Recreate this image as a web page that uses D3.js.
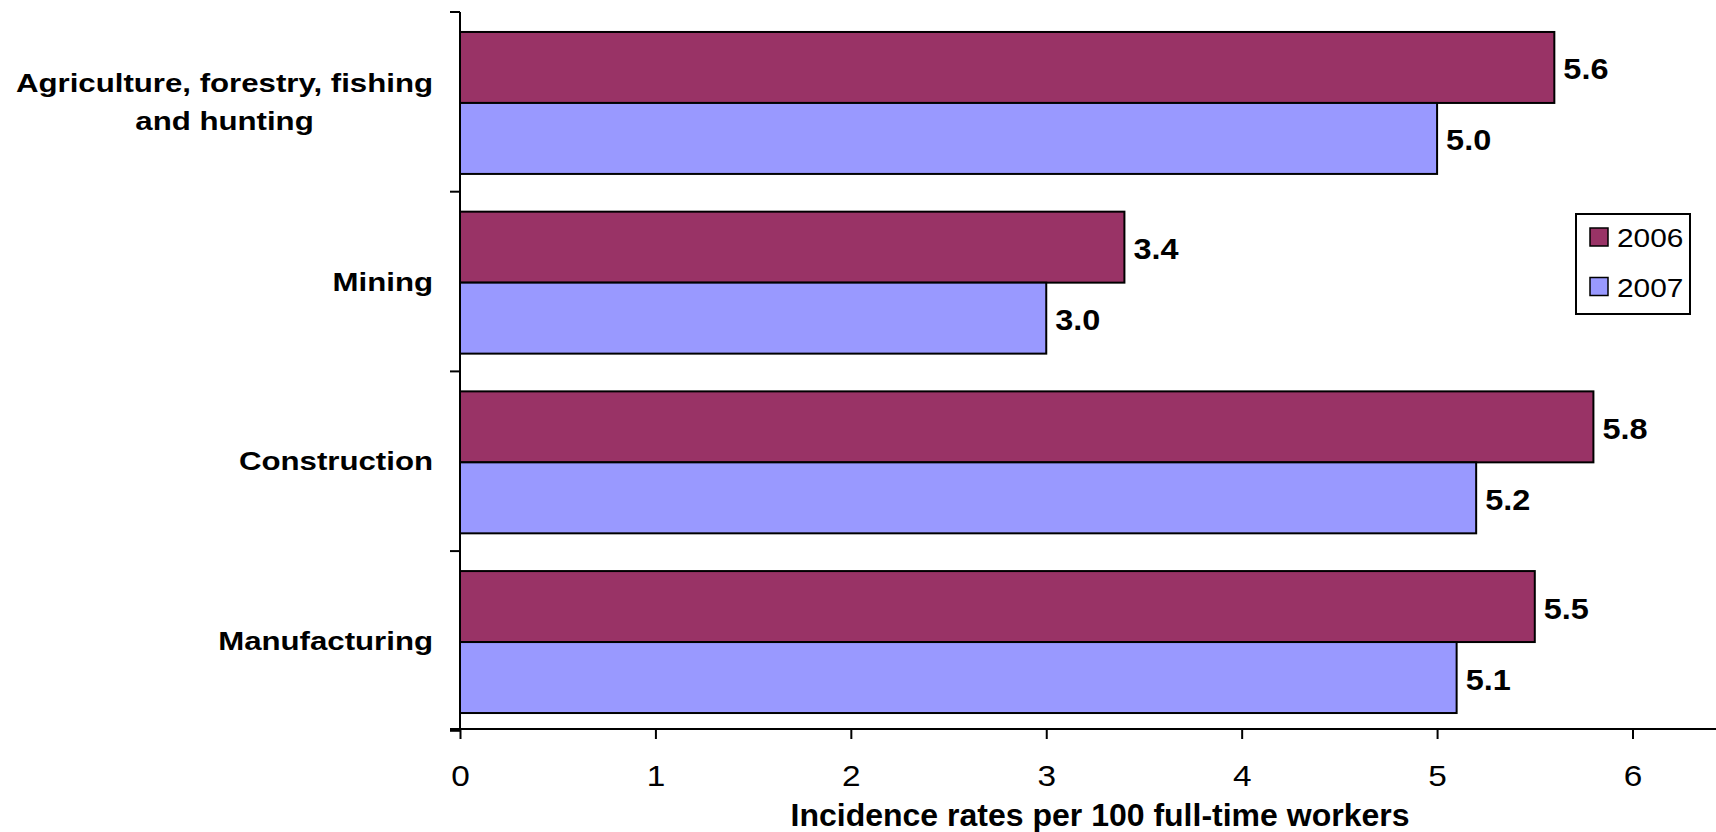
<!DOCTYPE html>
<html>
<head>
<meta charset="utf-8">
<script src="https://cdn.jsdelivr.net/npm/d3@7"></script>
<style>
  html, body { margin: 0; padding: 0; background: #fff; }
  svg { display: block; }
  text { font-family: "Liberation Sans", Arial, sans-serif; fill: #000; }
</style>
</head>
<body>
<svg id="chart" width="1716" height="832"></svg>
<script>
// ---- data ----
const categories = [
  ["Agriculture, forestry, fishing", "and hunting"],
  ["Mining"],
  ["Construction"],
  ["Manufacturing"]
];
const categoryKeys = ["Agriculture", "Mining", "Construction", "Manufacturing"];
const seriesNames = ["2006", "2007"];
const values2006 = [5.6, 3.4, 5.8, 5.5];
const values2007 = [5.0, 3.0, 5.2, 5.1];
const xTicks = [0, 1, 2, 3, 4, 5, 6];
const xTitle = "Incidence rates per 100 full-time workers";
const colors = ["#993366", "#9999FF"];

(function () {
// ---- layout ----
const svg = d3.select("#chart");
const W = 1716, H = 832;
const mLeft = 460, mRight = 1632.5, mTop = 12, mBottom = 729;

const x = d3.scaleLinear().domain([0, 6]).range([mLeft, mRight]);
const y = d3.scaleBand().domain(categoryKeys).range([mTop + 2, mBottom + 2])
  .paddingInner(0.21).paddingOuter(0.1);
const ys = d3.scaleBand().domain(seriesNames).range([0, y.bandwidth()]);
const color = d3.scaleOrdinal().domain(seriesNames).range(colors);

const rows = categoryKeys.map((k, i) => ({
  key: k, label: categories[i],
  vals: [{s: "2006", v: values2006[i]}, {s: "2007", v: values2007[i]}]
}));

// bars
const g = svg.append("g");
const groups = g.selectAll("g.cat").data(rows).join("g")
  .attr("class", "cat")
  .attr("transform", d => `translate(0,${y(d.key)})`);

groups.selectAll("rect").data(d => d.vals).join("rect")
  .attr("x", x(0))
  .attr("y", d => ys(d.s))
  .attr("width", d => x(d.v) - x(0))
  .attr("height", ys.bandwidth())
  .attr("fill", d => color(d.s))
  .attr("stroke", "#000")
  .attr("stroke-width", 2);

// value labels
const fmt = d3.format(".1f");
groups.selectAll("text.val").data(d => d.vals).join("text")
  .attr("class", "val")
  .attr("transform", d => `translate(${x(d.v) + 9},${ys(d.s) + ys.bandwidth() / 2 + 12}) scale(1.12,1)`)
  .attr("font-size", 29)
  .attr("font-weight", "bold")
  .text(d => fmt(d.v));

// x axis
const xAxis = d3.axisBottom(x).tickValues(xTicks).tickFormat(d3.format("d"))
  .tickSize(10).tickSizeOuter(0).tickPadding(0);
const xg = svg.append("g").attr("transform", `translate(0,${mBottom})`).call(xAxis);
xg.select(".domain").attr("d", `M${mLeft - 10},0H${W}`).attr("stroke", "#000").attr("stroke-width", 2);
xg.selectAll(".tick line").attr("stroke", "#000").attr("stroke-width", 2);
xg.selectAll(".tick text")
  .attr("y", null).attr("dy", null)
  .attr("transform", "translate(0,57) scale(1.15,1)")
  .attr("font-size", 29)
  .attr("font-family", "Liberation Sans, Arial, sans-serif")
  .attr("fill", "#000");

// y axis line + ticks at category boundaries
svg.append("line")
  .attr("x1", mLeft).attr("x2", mLeft).attr("y1", mTop).attr("y2", mBottom)
  .attr("stroke", "#000").attr("stroke-width", 2);
const bounds = d3.range(categoryKeys.length + 1).map(i => mTop + i * y.step());
svg.selectAll("line.ytick").data(bounds).join("line")
  .attr("class", "ytick")
  .attr("x1", mLeft - 10).attr("x2", mLeft)
  .attr("y1", d => d).attr("y2", d => d)
  .attr("stroke", "#000").attr("stroke-width", 2);

// category labels
const labelRight = 433;
const lsx = 1.2;
rows.forEach(r => {
  const cy = y(r.key) + y.bandwidth() / 2;
  if (r.label.length === 1) {
    svg.append("text")
      .attr("transform", `translate(${labelRight},${cy + 8}) scale(${lsx},1)`)
      .attr("text-anchor", "end")
      .attr("font-size", 26).attr("font-weight", "bold")
      .text(r.label[0]);
  } else {
    const t1 = svg.append("text")
      .attr("transform", `translate(${labelRight},${cy - 10.5}) scale(${lsx},1)`)
      .attr("text-anchor", "end")
      .attr("font-size", 26).attr("font-weight", "bold")
      .text(r.label[0]);
    const w = t1.node().getComputedTextLength() * lsx;
    svg.append("text")
      .attr("transform", `translate(${labelRight - w / 2},${cy + 27.5}) scale(${lsx},1)`)
      .attr("text-anchor", "middle")
      .attr("font-size", 26).attr("font-weight", "bold")
      .text(r.label[1]);
  }
});

// x title
svg.append("text")
  .attr("transform", `translate(1100,826)`)
  .attr("text-anchor", "middle")
  .attr("font-size", 32).attr("font-weight", "bold")
  .text(xTitle);

// legend
const lg = svg.append("g").attr("transform", "translate(1576,214)");
lg.append("rect").attr("x", 0).attr("y", 0).attr("width", 114).attr("height", 100)
  .attr("fill", "#fff").attr("stroke", "#000").attr("stroke-width", 2);
const items = lg.selectAll("g.item").data(seriesNames).join("g")
  .attr("class", "item")
  .attr("transform", (d, i) => `translate(0,${14 + i * 49.5})`);
items.append("rect").attr("x", 14).attr("y", 0).attr("width", 18).attr("height", 18)
  .attr("fill", d => color(d)).attr("stroke", "#000").attr("stroke-width", 1.5);
items.append("text")
  .attr("transform", "translate(41,19) scale(1.17,1)")
  .attr("font-size", 25.5)
  .text(d => d);
})();
</script>
</body>
</html>
